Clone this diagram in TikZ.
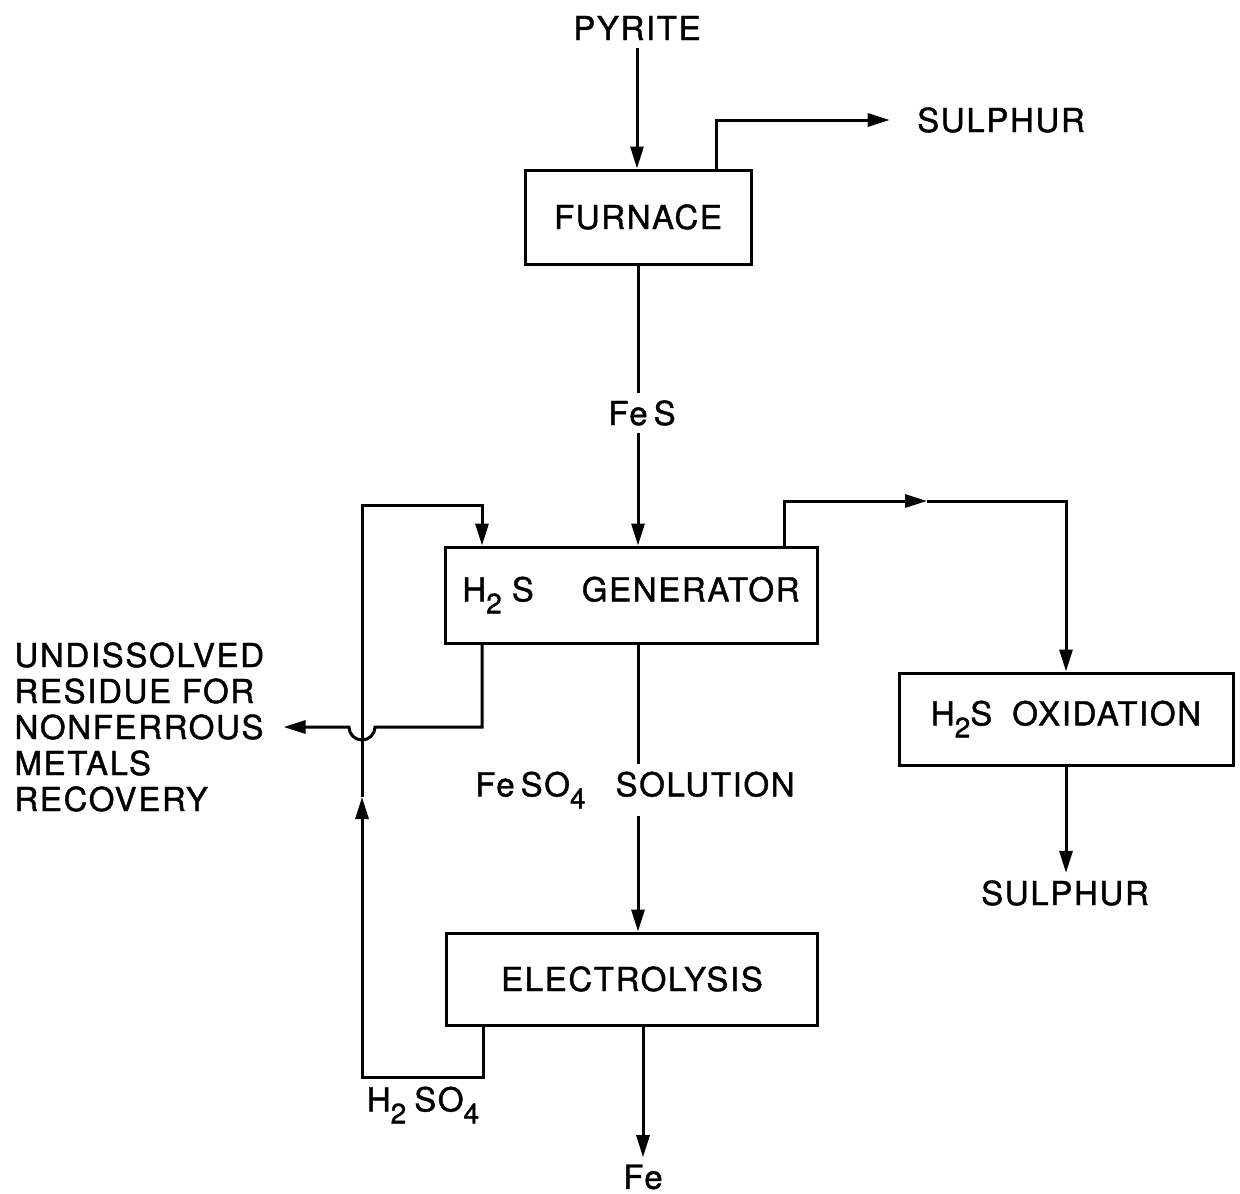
\documentclass[tikz,border=0pt]{standalone}
\usepackage{fontspec}
\setmainfont{TeX Gyre Heros}[LetterSpace=5, FakeBold=1.2]
\usetikzlibrary{arrows.meta}
\newcommand{\dn}[1]{\raisebox{-6pt}{\fontsize{14}{14}\selectfont #1}}
\tikzset{
	>={Triangle[length=11pt,width=6.5pt]}, % long narrow solid heads
	every node/.style={font=\fontsize{16.5}{18}\selectfont}, % lettering size
	unit/.style={draw, inner sep=0pt}, % process boxes
	label text/.style={inner sep=3pt}, % stream names on the lines
}

\begin{document}
\begin{tikzpicture}[x=0.5pt, y=-0.5pt, line width=1.5pt]
	\useasboundingbox (0,0) rectangle (1240,1193);
	% process boxes
	\node (furnace) at (638,217) [unit, minimum width=113pt, minimum height=47pt] {FURNACE};
	\node (gen) at (631,595) [unit, minimum width=186pt, minimum height=48pt] {H\dn{2}\hspace{5pt}S\hspace{24pt}GENERATOR};
	\node (oxid) at (1066,719) [unit, minimum width=167pt, minimum height=46pt] {H\dn{2}S\hspace{10pt}OXIDATION};
	\node (elec) at (632,979) [unit, minimum width=185.5pt, minimum height=46pt] {ELECTROLYSIS};
	% streams
	\node (pyrite) at (637,28) [label text] {PYRITE};
	\node (sulphurtop) at (1001,120) [label text] {SULPHUR};
	\node (fes) at (642,413) [label text] {Fe\hspace{3pt}S};
	\node (sulphurbot) at (1065,893) [label text] {SULPHUR};
	\node (feso) at (635,790) [label text] {Fe\hspace{3pt}SO\dn{4}\hspace{15pt}SOLUTION};
	\node (fe) at (643,1177) [label text] {Fe};
	\node (hso) at (423,1105) [label text] {H\dn{2}\hspace{4pt}SO\dn{4}};
	\node (residue) at (13,727) [anchor=west, align=left, inner sep=0pt] {UNDISSOLVED\\RESIDUE FOR\\NONFERROUS\\METALS\\RECOVERY};
	\coordinate (hsarrow) at (927,501);
	\coordinate (hopright) at (375,727);
	\coordinate (acidturn) at (362,1077);
	\coordinate (acidup) at (362,797);
	\coordinate (acidtop) at (362,505);

	\draw[->] (pyrite.south) -- (pyrite.south |- furnace.north);
	\draw[->] ([xshift=39pt]furnace.north) |- ([xshift=-10pt]sulphurtop.west);
	\draw (furnace.south) -- (furnace.south |- fes.north);
	\draw[->] (furnace.south |- fes.south) -- (furnace.south |- gen.north);
	\draw[->] ([xshift=76.5pt]gen.north) |- (hsarrow);
	\draw[->] (hsarrow) -| (oxid.north);
	\draw[->] (oxid.south) -- (oxid.south |- sulphurbot.north);
	\draw (gen.south -| furnace.south) -- (feso.north -| furnace.south);
	\draw[->] (feso.south -| furnace.south) -- (elec.north -| furnace.south);
	\draw[->] (elec.south -| fe.north) -- (fe.north);
	% acid recycle
	\draw[->] ([xshift=-74.5pt]elec.south) |- (acidturn) -- (acidup);
	\draw[->] (acidup) -- (acidtop) -| ([xshift=-74.5pt]gen.north);
	% residue hops over the recycle line
	\draw[->] ([xshift=-74.5pt]gen.south) |- (hopright)
		arc[start angle=0, end angle=-180, radius=6.5pt] -- ([xshift=9pt]residue.east |- hopright);
\end{tikzpicture}
\end{document}
